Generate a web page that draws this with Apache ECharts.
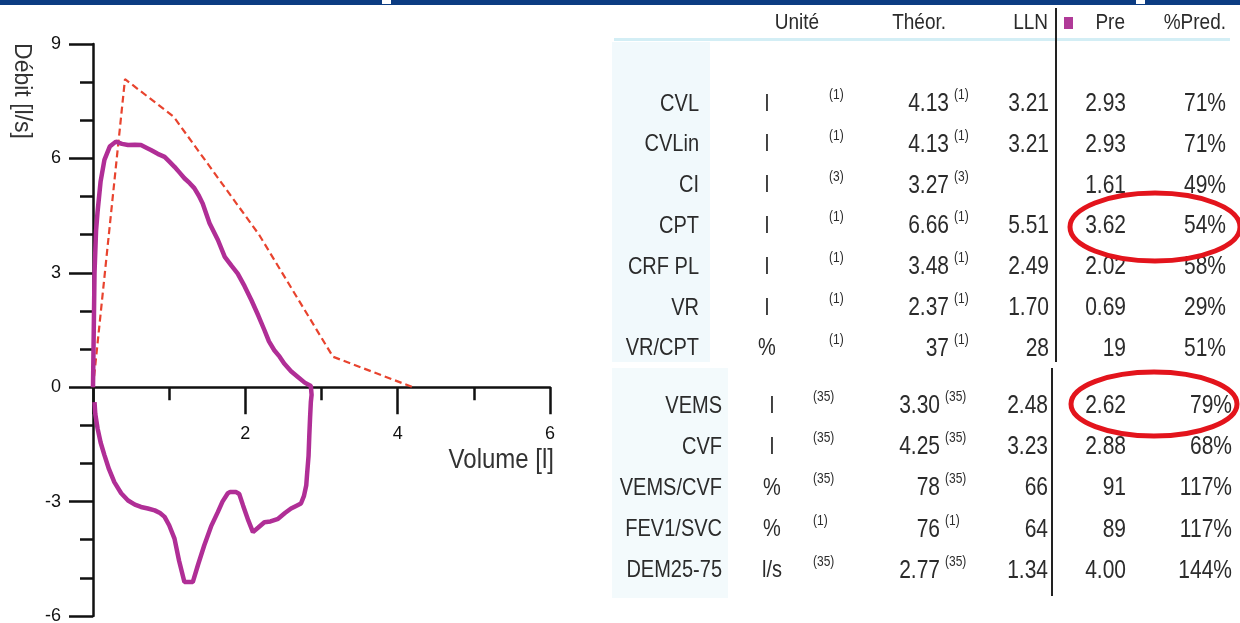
<!DOCTYPE html>
<html><head><meta charset="utf-8">
<script src="https://cdn.jsdelivr.net/npm/echarts@6/dist/echarts.min.js"></script>
<style>html,body{margin:0;padding:0;background:#fff}#c{width:1240px;height:623px}</style>
</head><body><div id="c"></div><script>
// ---- Flow-volume data ----
const predVolume = [0, 0.42, 1.06, 2.18, 3.15, 4.2];
const predFlow   = [0, 8.08, 7.09, 4.0, 0.8, 0];

const expVolume = [0, 0.01, 0.02, 0.04, 0.06, 0.10, 0.15, 0.22, 0.30, 0.38, 0.46, 0.55, 0.63, 0.70, 0.76, 0.85, 0.94, 1.00, 1.07, 1.14, 1.20, 1.27, 1.33, 1.39, 1.44, 1.53, 1.64, 1.73, 1.82, 1.90, 1.99, 2.08, 2.17, 2.25, 2.31, 2.38, 2.45, 2.51, 2.60, 2.69, 2.78, 2.86, 2.88];
const expFlow   = [0, 1.5, 3.0, 4.1, 4.6, 5.4, 5.96, 6.31, 6.44, 6.38, 6.35, 6.36, 6.35, 6.28, 6.22, 6.12, 6.04, 5.92, 5.78, 5.62, 5.48, 5.35, 5.22, 5.02, 4.82, 4.3, 3.86, 3.42, 3.18, 2.98, 2.65, 2.28, 1.88, 1.5, 1.2, 0.97, 0.8, 0.62, 0.42, 0.27, 0.12, 0.03, 0];

const inspVolume = [2.88, 2.87, 2.86, 2.85, 2.84, 2.83, 2.81, 2.80, 2.77, 2.73, 2.66, 2.60, 2.52, 2.43, 2.33, 2.25, 2.17, 2.10, 2.04, 1.97, 1.92, 1.88, 1.80, 1.77, 1.70, 1.64, 1.55, 1.46, 1.38, 1.31, 1.20, 1.13, 1.07, 1.00, 0.94, 0.88, 0.81, 0.72, 0.63, 0.55, 0.46, 0.37, 0.28, 0.21, 0.15, 0.10, 0.06, 0.03, 0.02];
const inspFlow   = [0, -0.2, -0.39, -0.8, -1.26, -1.8, -2.3, -2.57, -2.85, -3.05, -3.12, -3.18, -3.3, -3.45, -3.52, -3.54, -3.68, -3.8, -3.5, -3.1, -2.8, -2.75, -2.75, -2.78, -3.0, -3.27, -3.65, -4.15, -4.65, -5.11, -5.11, -4.55, -3.97, -3.62, -3.4, -3.3, -3.23, -3.18, -3.14, -3.08, -2.97, -2.78, -2.49, -2.15, -1.78, -1.45, -1.08, -0.7, -0.39];

// ---- Table data ----
const headers = ['Unité', 'Théor.', 'LLN', 'Pre', '%Pred.'];
const upperNames = ['CVL', 'CVLin', 'CI', 'CPT', 'CRF PL', 'VR', 'VR/CPT'];
const upperUnits = ['l', 'l', 'l', 'l', 'l', 'l', '%'];
const upperRefs  = ['(1)', '(1)', '(3)', '(1)', '(1)', '(1)', '(1)'];
const upperTheor = ['4.13', '4.13', '3.27', '6.66', '3.48', '2.37', '37'];
const upperLln   = ['3.21', '3.21', '', '5.51', '2.49', '1.70', '28'];
const upperPre   = ['2.93', '2.93', '1.61', '3.62', '2.02', '0.69', '19'];
const upperPct   = ['71%', '71%', '49%', '54%', '58%', '29%', '51%'];

const lowerNames = ['VEMS', 'CVF', 'VEMS/CVF', 'FEV1/SVC', 'DEM25-75'];
const lowerUnits = ['l', 'l', '%', '%', 'l/s'];
const lowerRefs  = ['(35)', '(35)', '(35)', '(1)', '(35)'];
const lowerTheor = ['3.30', '4.25', '78', '76', '2.77'];
const lowerLln   = ['2.48', '3.23', '66', '64', '1.34'];
const lowerPre   = ['2.62', '2.88', '91', '89', '4.00'];
const lowerPct   = ['79%', '68%', '117%', '117%', '144%'];

const zip = (a, b) => a.map((v, i) => [v, b[i]]);
const measured = zip(expVolume, expFlow).concat(zip(inspVolume, inspFlow));
const predicted = zip(predVolume, predFlow);

const FONT = '"Liberation Sans", Arial, sans-serif';
const TXT = '#2b2b2b';
const g = [];
// top bar
g.push({type:'rect', shape:{x:0,y:0,width:1240,height:5}, style:{fill:'#0c3c82'}});
g.push({type:'rect', shape:{x:382,y:0,width:9,height:4}, style:{fill:'#fff'}});
g.push({type:'rect', shape:{x:1136,y:0,width:9,height:4}, style:{fill:'#fff'}});
// column tint
g.push({type:'rect', shape:{x:612,y:42,width:98,height:320}, style:{fill:'#f1f9fc'}});
g.push({type:'rect', shape:{x:612,y:368,width:116,height:230}, style:{fill:'#f3fafc'}});
// header underline
g.push({type:'rect', shape:{x:614,y:38,width:616,height:3}, style:{fill:'#d3eef5'}});
// axis titles
g.push({type:'text', x:22, y:91, rotation:-Math.PI/2, scaleY:1.05, style:{text:'Débit [l/s]', font:'23px '+FONT, fill:'#333', align:'center', verticalAlign:'middle'}});
g.push({type:'text', x:554, y:460, scaleY:1.15, style:{text:'Volume [l]', font:'24px '+FONT, fill:'#333', align:'right', verticalAlign:'middle'}});

function t(x, y, text, size, align) {
  g.push({type:'text', x, y, scaleY:1.2, style:{text, font:size+'px '+FONT, fill:TXT, align, verticalAlign:'middle'}});
}
// headers
const hx = [797, 946, 1048, 1125, 1226];
const ha = ['center', 'right', 'right', 'right', 'right'];
headers.forEach((h, i) => t(hx[i], 23, h, 19, ha[i]));
g.push({type:'rect', shape:{x:1064,y:17,width:9,height:12}, style:{fill:'#b03a98'}});

function block(names, units, refs, theor, lln, pre, pct, y0, dy, col) {
  names.forEach((n, i) => {
    const y = y0 + i * dy;
    t(col.name, y, n, 20, 'right');
    t(col.unit, y, units[i], 20, 'center');
    t(col.ref, y - 9, refs[i], 12, 'left');
    t(col.theor, y, theor[i], 21, 'right');
    t(col.theorRef, y - 9, refs[i], 12, 'left');
    t(col.lln, y, lln[i], 21, 'right');
    t(col.pre, y, pre[i], 21, 'right');
    t(col.pct, y, pct[i], 21, 'right');
  });
}
block(upperNames, upperUnits, upperRefs, upperTheor, upperLln, upperPre, upperPct, 104, 40.8,
  {name:699, unit:767, ref:829, theor:949, theorRef:954, lln:1049, pre:1126, pct:1226});
block(lowerNames, lowerUnits, lowerRefs, lowerTheor, lowerLln, lowerPre, lowerPct, 406, 41.2,
  {name:722, unit:772, ref:813, theor:940, theorRef:945, lln:1048, pre:1126, pct:1232});
// separators
g.push({type:'line', shape:{x1:1056,y1:8,x2:1056,y2:362}, style:{stroke:'#222', lineWidth:2}});
g.push({type:'line', shape:{x1:1052,y1:368,x2:1052,y2:596}, style:{stroke:'#222', lineWidth:2}});
// red ellipses
g.push({type:'ellipse', shape:{cx:1155,cy:227,rx:85,ry:34}, style:{fill:'none', stroke:'#e3141c', lineWidth:5}});
g.push({type:'ellipse', shape:{cx:1154,cy:404,rx:83,ry:32}, style:{fill:'none', stroke:'#e3141c', lineWidth:5}});

const GRID = {left:93, top:44, right:690, bottom:7};
const chart = echarts.init(document.getElementById('c'), null, {renderer:'canvas'});
const option = {
  backgroundColor:'#fff',
  animation:false,
  grid:Object.assign({containLabel:false, outerBoundsMode:'none'}, GRID),
  xAxis:{type:'value', min:0, max:6, interval:2, position:'bottom', offset:0,
    axisLine:{onZero:false, lineStyle:{color:'#111', width:2.5}},
    axisTick:{show:true, length:27, lineStyle:{color:'#111', width:2.5}},
    minorTick:{show:true, splitNumber:2, length:13, lineStyle:{color:'#111', width:2.5}},
    axisLabel:{show:true, margin:38, fontSize:18, color:'#111', fontFamily:FONT, formatter:v => v === 0 ? '' : String(v)},
    splitLine:{show:false}},
  yAxis:{type:'value', min:-6, max:9, interval:3,
    axisLine:{show:true, onZero:false, lineStyle:{color:'#111', width:2.5}},
    axisTick:{show:true, length:24, lineStyle:{color:'#111', width:2.5}},
    minorTick:{show:true, splitNumber:3, length:13, lineStyle:{color:'#111', width:2.5}},
    axisLabel:{margin:32, fontSize:18, color:'#111', fontFamily:FONT},
    splitLine:{show:false}},
  series:[
    {type:'line', data:predicted, symbol:'none', lineStyle:{color:'#e8432e', width:2.2, type:[7,4]}, z:2},
    {type:'line', data:measured, symbol:'none', lineStyle:{color:'#b02e96', width:4.5}, z:3}
  ],
  graphic:g
};
chart.setOption(option);
// place the volume axis on the zero-flow line through the y scale
const zeroPx = chart.convertToPixel({yAxisIndex:0}, 0);
const bottomPx = 623 - GRID.bottom;
chart.setOption({xAxis:{offset: zeroPx - bottomPx}});
</script></body></html>
